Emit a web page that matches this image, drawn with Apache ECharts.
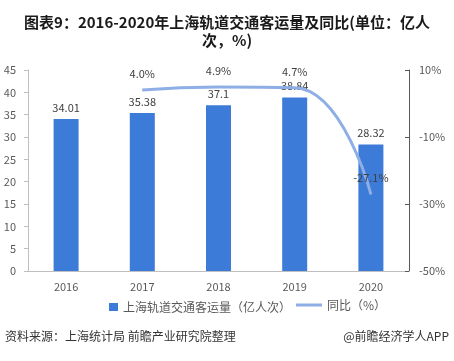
<!DOCTYPE html>
<html><head><meta charset="utf-8">
<script src="https://cdn.jsdelivr.net/npm/echarts@6/dist/echarts.min.js"></script>
<style>html,body{margin:0;padding:0;background:#fff;}#c{width:454px;height:361px;}</style>
</head><body><div id="c"></div>
<script>
var categories = ['2016','2017','2018','2019','2020'];
var passengerVolume = [34.01, 35.38, 37.1, 38.84, 28.32];
var yoyGrowth = [null, 4.0, 4.9, 4.7, -27.1];
var leftTicks = [0, 45, 5];
var rightTicks = [-50, 10, 20];

var chart = echarts.init(document.getElementById('c'), null, {renderer:'canvas'});
var font = '"Microsoft YaHei","Noto Sans CJK SC",sans-serif';
chart.setOption({
  animation:false,
  title:{
    text:'图表9：2016-2020年上海轨道交通客运量及同比(单位：亿人\n次，%)',
    left:'center', top:8,
    textStyle:{fontSize:15, fontWeight:'bold', color:'#1a1a1a', fontFamily:font, lineHeight:18}
  },
  grid:{left:28, right:45, top:70, bottom:90},
  legend:[
    {left:104, bottom:43, itemWidth:9, itemHeight:8, itemGap:4,
     textStyle:{fontSize:12, color:'#595959', fontFamily:font},
     data:[{name:'上海轨道交通客运量（亿人次）', icon:'rect'}]},
    {left:291, bottom:45, itemWidth:26, itemHeight:3,
     textStyle:{fontSize:12, color:'#595959', fontFamily:font},
     data:[{name:'同比（%）', icon:'rect', itemStyle:{color:'#8eaee6'}}]}
  ],
  graphic:[
    {type:'text', left:5, top:330, style:{text:'资料来源：上海统计局 前瞻产业研究院整理', fill:'#333', font:'12px '+font}},
    {type:'text', right:5, top:330, style:{text:'@前瞻经济学人APP', fill:'#333', font:'12px '+font}}
  ],
  xAxis:{
    type:'category', data:categories,
    axisLine:{lineStyle:{color:'#bfbfbf'}}, axisTick:{show:false},
    axisLabel:{fontSize:11, color:'#595959', margin:10, fontFamily:font}
  },
  yAxis:[
    {type:'value', min:leftTicks[0], max:leftTicks[1], interval:leftTicks[2],
     axisLine:{show:true, lineStyle:{color:'#bfbfbf'}}, axisTick:{show:true, length:4, lineStyle:{color:'#bfbfbf'}},
     splitLine:{show:false}, axisLabel:{fontSize:11, color:'#595959', margin:12, fontFamily:font}},
    {type:'value', min:rightTicks[0], max:rightTicks[1], interval:rightTicks[2], position:'right',
     axisLine:{show:true, lineStyle:{color:'#595959'}}, axisTick:{show:true, inside:true, length:4, lineStyle:{color:'#595959'}},
     splitLine:{show:false}, axisLabel:{fontSize:11, color:'#595959', margin:10, fontFamily:font, formatter:'{value}%'}}
  ],
  series:[
    {name:'上海轨道交通客运量（亿人次）', type:'bar', data:passengerVolume, barWidth:25,
     itemStyle:{color:'#3c7bd8'},
     label:{show:true, position:'top', distance:6, fontSize:11, color:'#404040', fontFamily:font}},
    {name:'同比（%）', type:'line', yAxisIndex:1, data:yoyGrowth, smooth:0.5,
     showSymbol:true, symbol:'circle', symbolSize:1,
     lineStyle:{color:'#8eaee6', width:3}, itemStyle:{color:'#8eaee6'},
     label:{show:true, position:'top', distance:10, fontSize:11, color:'#404040', fontFamily:font,
       formatter:function(p){return p.value==null?'':p.value.toFixed(1)+'%';}}}
  ]
});
</script></body></html>
